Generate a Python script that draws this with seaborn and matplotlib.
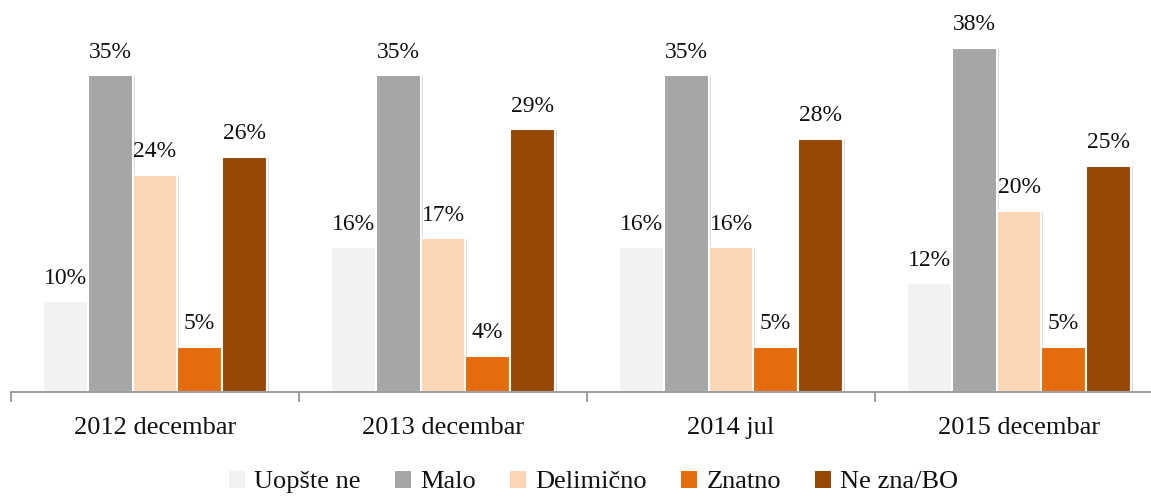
import matplotlib
matplotlib.use("Agg")
import matplotlib.pyplot as plt
import matplotlib.patheffects as pe
from matplotlib.patches import Patch
import seaborn as sns
import pandas as pd

periods = ["2012 decembar", "2013 decembar", "2014 jul", "2015 decembar"]
responses = ["Uopšte ne", "Malo", "Delimično", "Znatno", "Ne zna/BO"]
uopste_ne = [10, 16, 16, 12]
malo = [35, 35, 35, 38]
delimicno = [24, 17, 16, 20]
znatno = [5, 4, 5, 5]
ne_zna = [26, 29, 28, 25]
colors = ["#F2F2F2", "#A6A6A6", "#FCD5B5", "#E46C0A", "#974706"]

series = [uopste_ne, malo, delimicno, znatno, ne_zna]
rows = []
for resp, vals in zip(responses, series):
    for p, v in zip(periods, vals):
        rows.append({"period": p, "response": resp, "value": v})
df = pd.DataFrame(rows)

sns.set_theme(style="white")
plt.rcParams['font.family'] = ['Liberation Serif', 'DejaVu Serif']

fig = plt.figure(figsize=(11.51, 4.97), dpi=100)
ax = fig.add_axes([11 / 1151, 105 / 497, 1152 / 1151, 392 / 497])
sns.barplot(data=df, x="period", y="value", hue="response", order=periods,
            hue_order=responses, palette=colors, width=0.775, saturation=1,
            edgecolor="white", linewidth=1.5, ax=ax, legend=False)

for patch in ax.patches:
    patch.set_path_effects([
        pe.SimplePatchShadow(offset=(1.5, -0.5), shadow_rgbFace="#9a9a9a", alpha=0.35),
        pe.Normal()])

for cont in ax.containers:
    ax.bar_label(cont, labels=[f"{v:.0f}%" for v in cont.datavalues],
                 padding=9, fontsize=17, color="#111111")

ax.set_xlim(-0.5, 3.5)
ax.set_ylim(0, 43.3)
ax.set_xlabel("")
ax.set_ylabel("")
ax.set_yticks([])
for s in ["left", "top", "right"]:
    ax.spines[s].set_visible(False)
ax.spines["bottom"].set_color("#8c8c8c")
ax.spines["bottom"].set_linewidth(1.2)
ax.set_xticks([-0.5, 0.5, 1.5, 2.5, 3.5], minor=True)
ax.tick_params(axis="x", which="minor", length=7, width=1.2, color="#8c8c8c", direction="out", bottom=True)
ax.tick_params(axis="x", which="major", length=0, pad=18, labelsize=19, labelcolor="#111111")

handles = [Patch(facecolor=c, edgecolor="none") for c in colors]
fig.legend(handles, responses, loc="center", bbox_to_anchor=(0.516, 0.030),
           ncol=5, frameon=False, fontsize=19, handlelength=0.6, handleheight=0.6,
           handletextpad=0.35, columnspacing=1.3, labelcolor="#111111")

fig.savefig("out.png", dpi=100)
